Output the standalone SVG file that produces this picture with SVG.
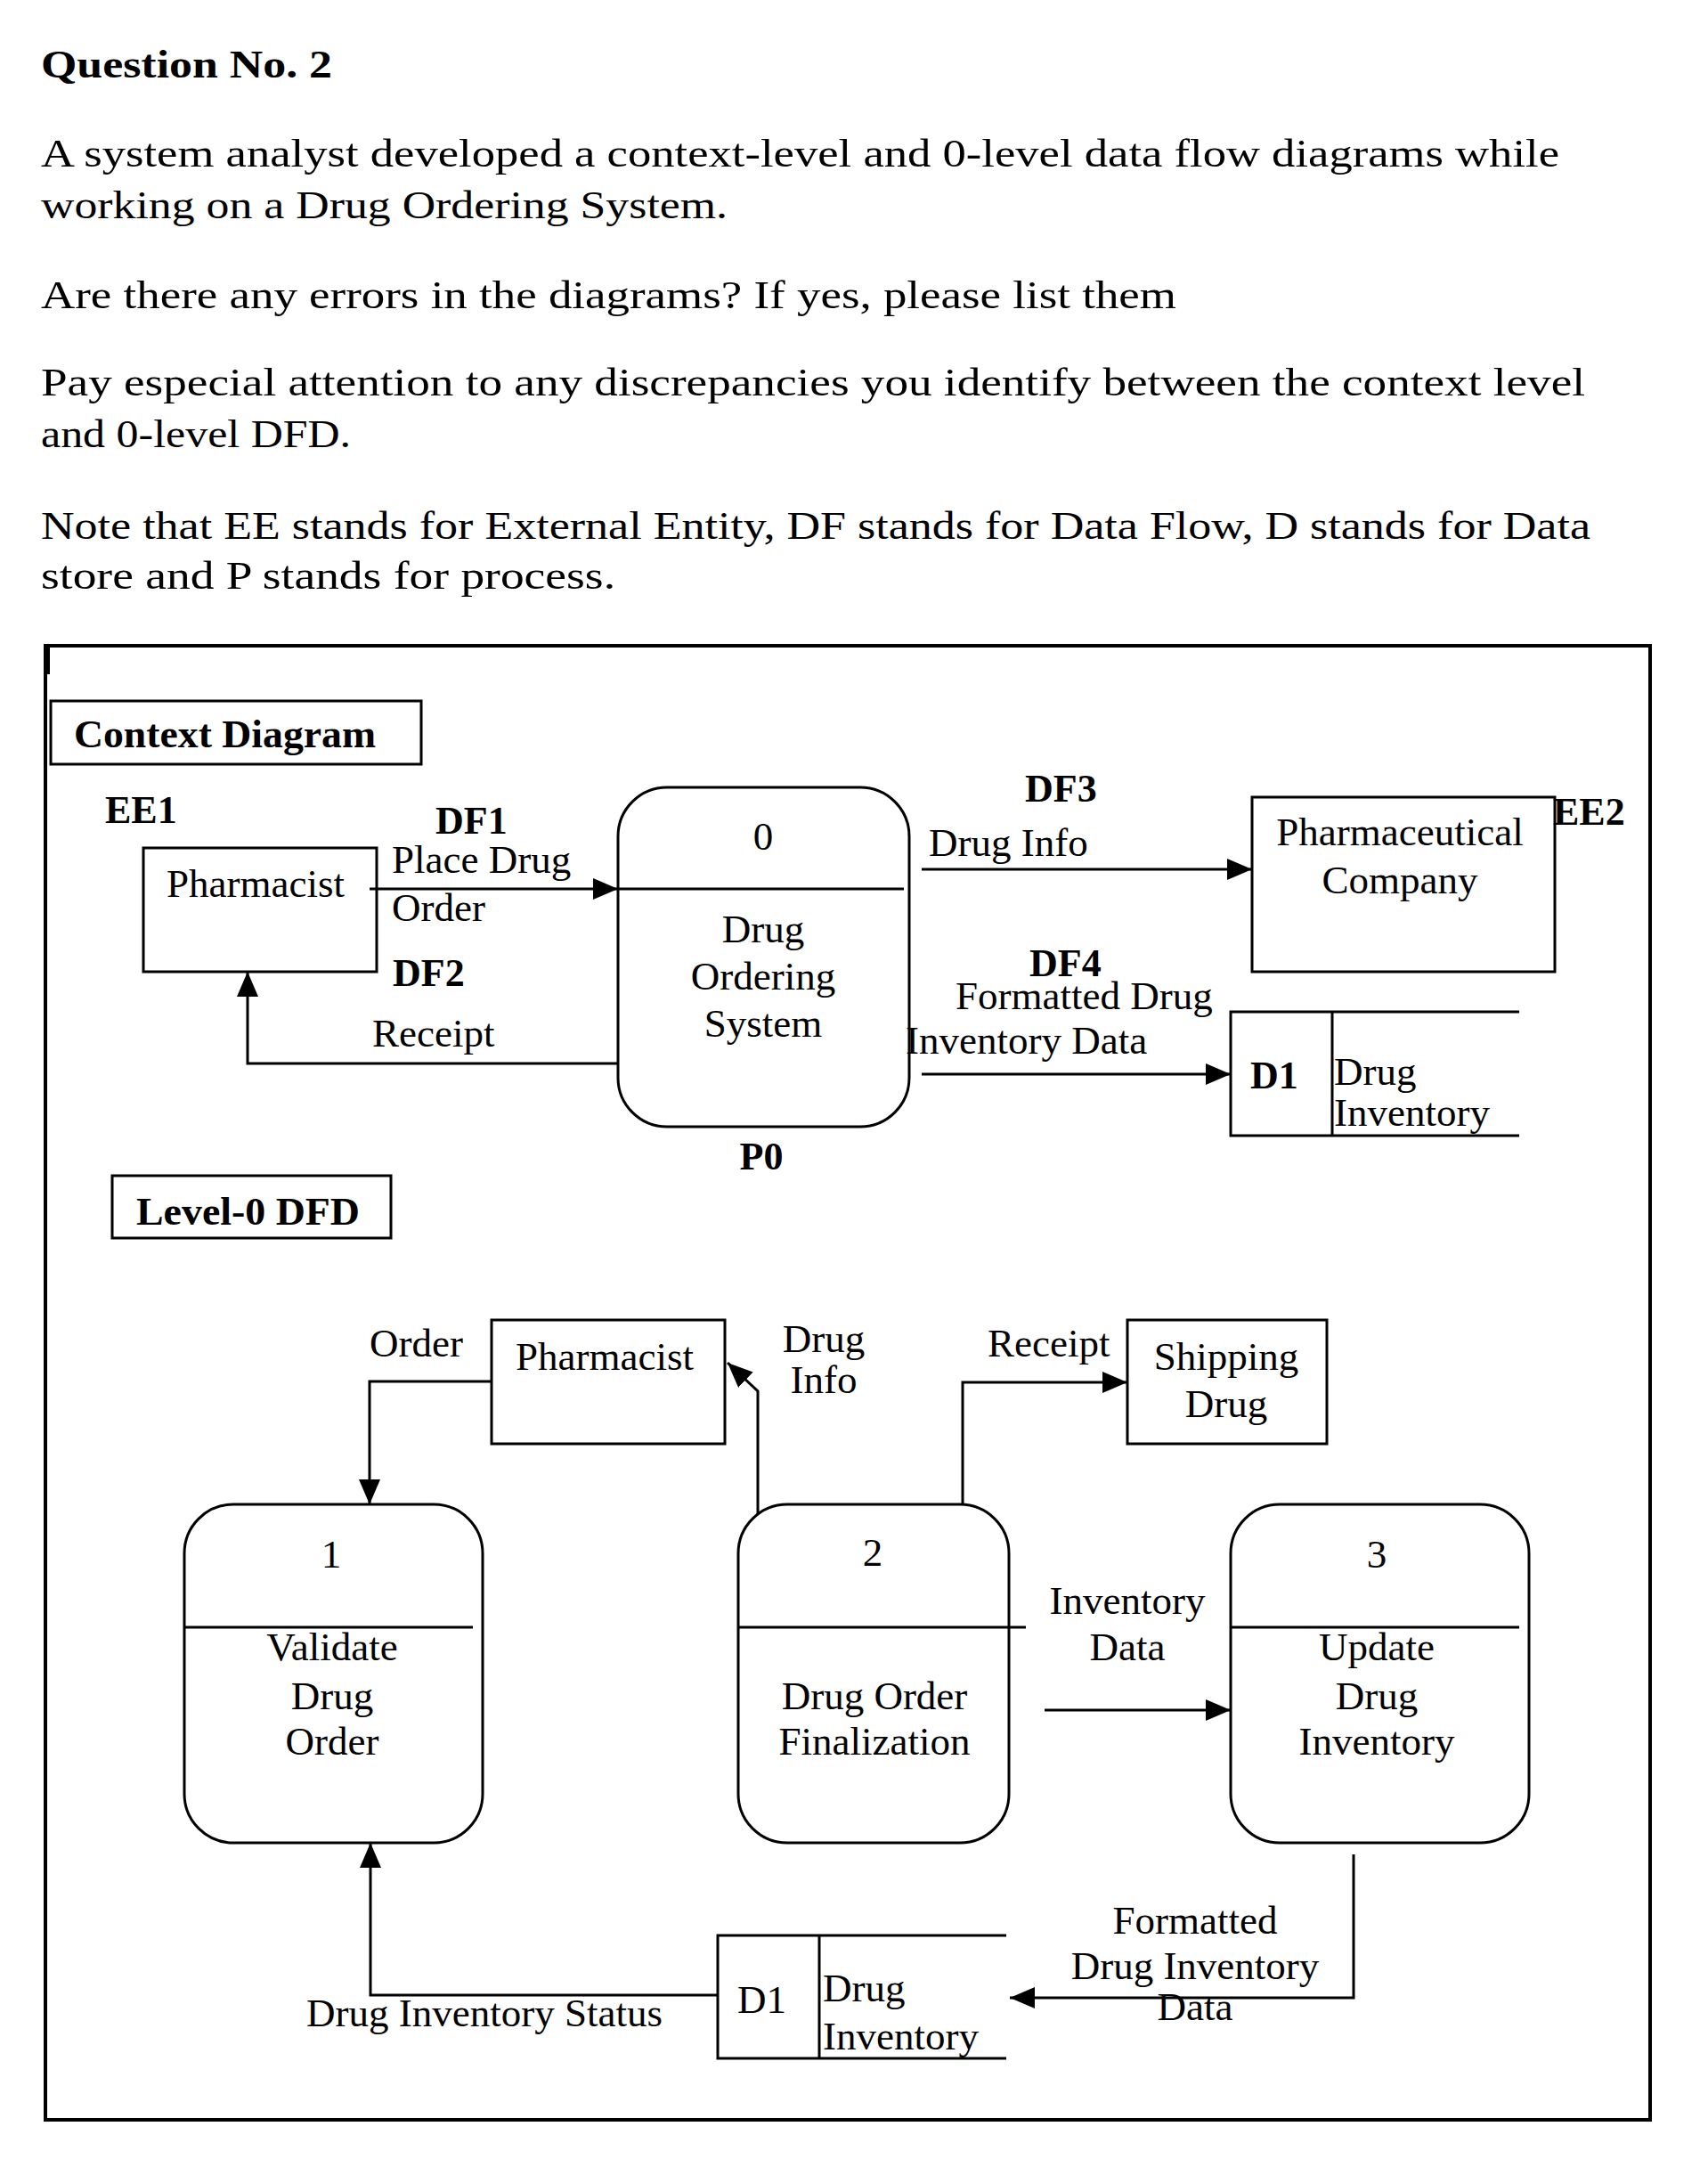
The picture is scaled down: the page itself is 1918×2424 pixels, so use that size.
<svg xmlns="http://www.w3.org/2000/svg" width="1918" height="2424" viewBox="0 0 1918 2424">
<style>
.h{font-family:"Liberation Serif",serif;font-size:44px;fill:#000}
.t{font-family:"Liberation Serif",serif;font-size:45px;fill:#000}
.b{font-family:"Liberation Serif",serif;font-size:44px;font-weight:bold;fill:#000}
.m{text-anchor:middle}
.box{fill:none;stroke:#000;stroke-width:3}
.ln{fill:none;stroke:#000;stroke-width:3}
.fl{fill:none;stroke:#000;stroke-width:3}
</style>
<defs>
<marker id="ah" markerWidth="28" markerHeight="24" refX="28" refY="12" orient="auto" markerUnits="userSpaceOnUse"><path d="M0,0 L28,12 L0,24 Z" fill="#000"/></marker>
</defs>
<rect width="1918" height="2424" fill="#fff"/>
<g id="question">
<text class="h" x="46" y="87" font-weight="bold" textLength="327" lengthAdjust="spacingAndGlyphs">Question No. 2</text>
<text class="h" x="46" y="187" textLength="1705" lengthAdjust="spacingAndGlyphs">A system analyst developed a context-level and 0-level data flow diagrams while</text>
<text class="h" x="46" y="245" textLength="771" lengthAdjust="spacingAndGlyphs">working on a Drug Ordering System.</text>
<text class="h" x="46" y="346" textLength="1275" lengthAdjust="spacingAndGlyphs">Are there any errors in the diagrams? If yes, please list them</text>
<text class="h" x="46" y="444" textLength="1734" lengthAdjust="spacingAndGlyphs">Pay especial attention to any discrepancies you identify between the context level</text>
<text class="h" x="46" y="502" textLength="348" lengthAdjust="spacingAndGlyphs">and 0-level DFD.</text>
<text class="h" x="46" y="605" textLength="1740" lengthAdjust="spacingAndGlyphs">Note that EE stands for External Entity, DF stands for Data Flow, D stands for Data</text>
<text class="h" x="46" y="661" textLength="645" lengthAdjust="spacingAndGlyphs">store and P stands for process.</text>
</g>
<g id="frame">
<rect x="51" y="725" width="1802" height="1655" fill="none" stroke="#000" stroke-width="4"/>
<rect x="51" y="725" width="5" height="32" fill="#000"/>
</g>
<g id="title-context">
<rect class="box" x="57" y="787" width="416" height="71"/>
<text class="b" x="83" y="839" font-size="46" textLength="339" lengthAdjust="spacingAndGlyphs">Context Diagram</text>
</g>
<g id="title-level0">
<rect class="box" x="126" y="1320" width="313" height="70"/>
<text class="b" x="153" y="1375" textLength="251" lengthAdjust="spacingAndGlyphs">Level-0 DFD</text>
</g>
<g id="connectors">
<path class="fl" d="M415,998 H694" marker-end="url(#ah)"/>
<path class="fl" d="M694,1194 H278 V1091" marker-end="url(#ah)"/>
<path class="fl" d="M1035,976 H1406" marker-end="url(#ah)"/>
<path class="fl" d="M1035,1206 H1382" marker-end="url(#ah)"/>
<path class="fl" d="M552,1551 H415 V1689" marker-end="url(#ah)"/>
<path class="fl" d="M851,1700 V1562 L817,1530" marker-end="url(#ah)"/>
<path class="fl" d="M1081,1689 V1552 H1266" marker-end="url(#ah)"/>
<path class="fl" d="M1173,1920 H1382" marker-end="url(#ah)"/>
<path class="fl" d="M1520,2082 V2243 H1134" marker-end="url(#ah)"/>
<path class="fl" d="M806,2240 H416 V2069" marker-end="url(#ah)"/>
</g>
<g id="connector-labels">
<text class="b" x="489" y="936">DF1</text>
<text class="t" x="440" y="980">Place Drug</text>
<text class="t" x="440" y="1034">Order</text>
<text class="b" x="441" y="1107">DF2</text>
<text class="t" x="418" y="1175">Receipt</text>
<text class="b" x="1151" y="900">DF3</text>
<text class="t" x="1043" y="961">Drug Info</text>
<text class="b" x="1156" y="1096">DF4</text>
<text class="t" x="1073" y="1133">Formatted Drug</text>
<text class="t" x="1017" y="1183">Inventory Data</text>
<text class="t" x="415" y="1523">Order</text>
<text class="t m" x="925" y="1518">Drug</text>
<text class="t m" x="925" y="1564">Info</text>
<text class="t" x="1109" y="1523">Receipt</text>
<text class="t m" x="1266" y="1812">Inventory</text>
<text class="t m" x="1266" y="1864">Data</text>
<text class="t m" x="1342" y="2171">Formatted</text>
<text class="t m" x="1342" y="2222">Drug Inventory</text>
<text class="t m" x="1342" y="2268">Data</text>
<text class="t" x="344" y="2275">Drug Inventory Status</text>
</g>
<g id="ee1">
<text class="b" x="118" y="924">EE1</text>
<rect class="box" x="161" y="952" width="262" height="139"/>
<text class="t" x="187" y="1007">Pharmacist</text>
</g>
<g id="p0">
<rect class="box" x="694" y="884" width="327" height="381" rx="55" ry="55"/>
<line class="ln" x1="694" y1="998" x2="1015" y2="998"/>
<text class="t m" x="857" y="954">0</text>
<text class="t m" x="857" y="1058">Drug</text>
<text class="t m" x="857" y="1111">Ordering</text>
<text class="t m" x="857" y="1164">System</text>
<text class="b m" x="855" y="1313">P0</text>
</g>
<g id="ee2">
<rect class="box" x="1406" y="895" width="340" height="196"/>
<text class="t m" x="1572" y="949">Pharmaceutical</text>
<text class="t m" x="1572" y="1003">Company</text>
<text class="b" x="1744" y="926">EE2</text>
</g>
<g id="d1-context">
<path class="ln" d="M1706,1136 H1382 V1275 H1706 M1496,1136 V1275"/>
<text class="b" x="1404" y="1222">D1</text>
<text class="t" x="1498" y="1218">Drug</text>
<text class="t" x="1498" y="1264">Inventory</text>
</g>
<g id="pharmacist-l0">
<rect class="box" x="552" y="1482" width="262" height="139"/>
<text class="t" x="579" y="1538">Pharmacist</text>
</g>
<g id="shipping">
<rect class="box" x="1266" y="1482" width="224" height="139"/>
<text class="t m" x="1377" y="1538">Shipping</text>
<text class="t m" x="1377" y="1591">Drug</text>
</g>
<g id="p1">
<rect class="box" x="207" y="1689" width="335" height="380" rx="55" ry="55"/>
<line class="ln" x1="207" y1="1827" x2="531" y2="1827"/>
<text class="t m" x="372" y="1760">1</text>
<text class="t m" x="373" y="1864">Validate</text>
<text class="t m" x="373" y="1919">Drug</text>
<text class="t m" x="373" y="1970">Order</text>
</g>
<g id="p2">
<rect class="box" x="829" y="1689" width="304" height="380" rx="55" ry="55"/>
<line class="ln" x1="829" y1="1827" x2="1152" y2="1827"/>
<text class="t m" x="980" y="1758">2</text>
<text class="t m" x="982" y="1919">Drug Order</text>
<text class="t m" x="982" y="1970">Finalization</text>
</g>
<g id="p3">
<rect class="box" x="1382" y="1689" width="335" height="380" rx="55" ry="55"/>
<line class="ln" x1="1382" y1="1827" x2="1706" y2="1827"/>
<text class="t m" x="1546" y="1760">3</text>
<text class="t m" x="1546" y="1864">Update</text>
<text class="t m" x="1546" y="1919">Drug</text>
<text class="t m" x="1546" y="1970">Inventory</text>
</g>
<g id="d1-level0">
<path class="ln" d="M1130,2173 H806 V2311 H1130 M920,2173 V2311"/>
<text class="t" x="828" y="2260">D1</text>
<text class="t" x="924" y="2247">Drug</text>
<text class="t" x="924" y="2301">Inventory</text>
</g>
</svg>
